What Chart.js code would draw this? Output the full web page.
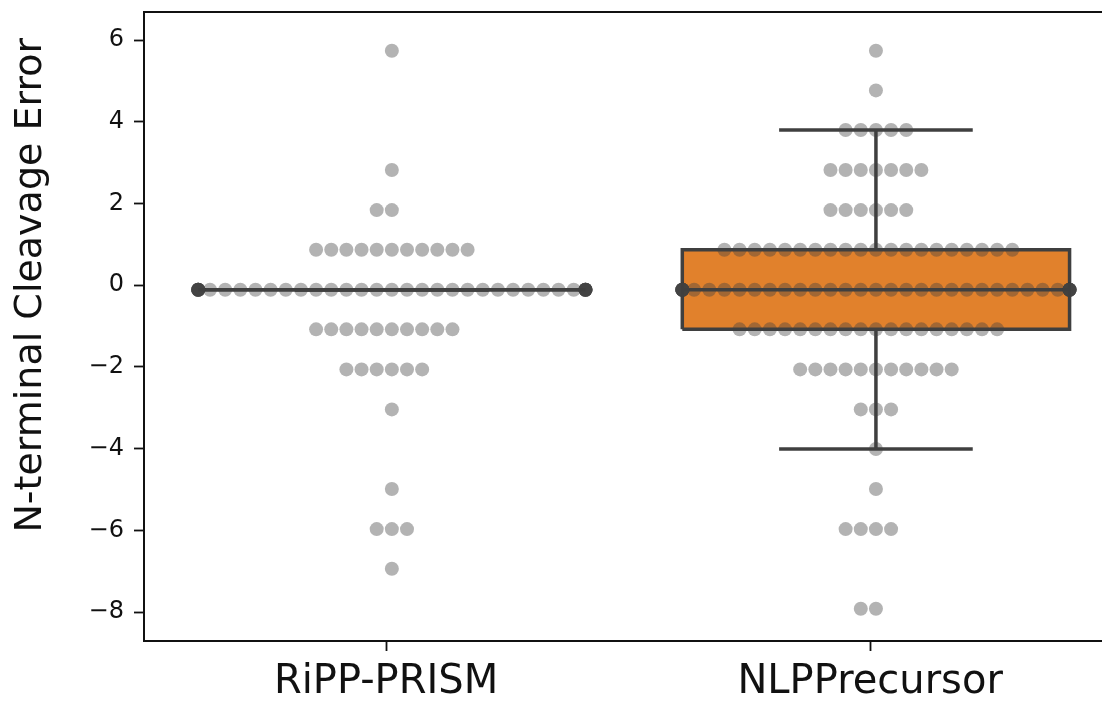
<!DOCTYPE html>
<html>
<head>
<meta charset="utf-8">
<script src="https://cdn.jsdelivr.net/npm/chart.js@4.4.1/dist/chart.umd.min.js"></script>
<style>
  html, body { margin: 0; padding: 0; background: #fff; }
</style>
</head>
<body>
<canvas id="chart" width="1102" height="704"></canvas>
<script>
const categories = ['RiPP-PRISM', 'NLPPrecursor'];
const yLabel = 'N-terminal Cleavage Error';
const yTicks = [-8, -6, -4, -2, 0, 2, 4, 6];

// swarm rows: error level and how many dots sit on it
const rippLevels = [5.74, 2.82, 1.84, 0.87, -0.11, -1.08, -2.06, -3.04, -4.99, -5.97, -6.94];
const rippCounts = [1, 1, 2, 11, 41, 10, 6, 1, 1, 3, 1];
const nlpLevels = [5.74, 4.77, 3.80, 2.82, 1.84, 0.87, -0.11, -1.08, -2.06, -3.04, -4.01, -4.99, -5.97, -7.92];
const nlpCounts = [1, 1, 5, 7, 6, 20, 41, 18, 11, 3, 1, 1, 4, 2];

// box stats per category
const boxQ1 = [-0.11, -1.08];
const boxMedian = [-0.11, -0.11];
const boxQ3 = [-0.11, 0.87];
const whiskerLow = [-0.11, -4.01];
const whiskerHigh = [-0.11, 3.80];

const centerShift = 0.012;
const boxWidth = 0.8;
const capWidth = 0.4;
const dotStep = 0.0313;
const ink = '#3f3f3f';
const boxFill = '#e1812c';
const dotColor = 'rgba(64,64,64,0.4)';
const textColor = '#111';

// spread each row sideways: centre, left, right, left, right...; overflow piles at the edge
function swarm(ci, levels, counts) {
    const c = ci + centerShift;
    const pts = [];
    levels.forEach((v, i) => {
        for (let k = 0; k < counts[i]; k++) {
            const slot = k === 0 ? 0 : (k % 2 ? -(k + 1) / 2 : k / 2);
            const dx = Math.max(-boxWidth / 2, Math.min(boxWidth / 2, slot * dotStep));
            pts.push({ x: c + dx, y: v });
        }
    });
    return pts;
}

function seg(points) {
    return { data: points, borderColor: ink, borderWidth: 3.5, pointRadius: 0, fill: false, order: 1 };
}

const datasets = [];
[[rippLevels, rippCounts], [nlpLevels, nlpCounts]].forEach(([levels, counts], i) => {
    const c = i + centerShift;
    const x0 = c - boxWidth / 2, x1 = c + boxWidth / 2;
    const cx0 = c - capWidth / 2, cx1 = c + capWidth / 2;

    datasets.push({ data: swarm(i, levels, counts), showLine: false, pointRadius: 7, pointHoverRadius: 7,
        pointBackgroundColor: dotColor, pointBorderWidth: 0, order: 0 });

    // box fill between q3 and q1
    datasets.push({ data: [{ x: x0, y: boxQ3[i] }, { x: x1, y: boxQ3[i] }], borderWidth: 0, pointRadius: 0,
        backgroundColor: boxFill, fill: '+1', order: 2 });
    datasets.push({ data: [{ x: x0, y: boxQ1[i] }, { x: x1, y: boxQ1[i] }], borderWidth: 0, pointRadius: 0,
        fill: false, order: 2 });

    datasets.push(seg([{ x: x0, y: boxQ1[i] }, { x: x0, y: boxQ3[i] }, { x: x1, y: boxQ3[i] },
        { x: x1, y: boxQ1[i] }, { x: x0, y: boxQ1[i] }]));
    datasets.push(seg([{ x: x0, y: boxMedian[i] }, { x: x1, y: boxMedian[i] }]));
    datasets.push(seg([{ x: c, y: boxQ3[i] }, { x: c, y: whiskerHigh[i] }]));
    datasets.push(seg([{ x: c, y: boxQ1[i] }, { x: c, y: whiskerLow[i] }]));
    datasets.push(seg([{ x: cx0, y: whiskerHigh[i] }, { x: cx1, y: whiskerHigh[i] }]));
    datasets.push(seg([{ x: cx0, y: whiskerLow[i] }, { x: cx1, y: whiskerLow[i] }]));
});

const yTitlePlugin = {
    id: 'yTitle',
    afterDraw(chart) {
        const ctx = chart.ctx;
        const y = chart.scales.y.getPixelForValue(0);
        ctx.save();
        ctx.translate(41, y);
        ctx.rotate(-Math.PI / 2);
        ctx.font = '38px "DejaVu Sans"';
        ctx.fillStyle = textColor;
        ctx.textAlign = 'center';
        ctx.textBaseline = 'alphabetic';
        ctx.fillText(yLabel, 0, 0);
        ctx.restore();
    }
};

new Chart(document.getElementById('chart'), {
    type: 'line',
    data: { datasets },
    plugins: [yTitlePlugin],
    options: {
        responsive: false,
        animation: false,
        devicePixelRatio: 1,
        layout: { autoPadding: false, padding: { top: 12, right: 0, bottom: 0, left: 0 } },
        plugins: { legend: { display: false }, tooltip: { enabled: false } },
        scales: {
            x: {
                type: 'linear', position: 'bottom', min: -0.5, max: 1.479, offset: false,
                afterBuildTicks: s => { s.ticks = categories.map((c, i) => ({ value: i })); },
                afterFit: s => { s.height = 63; s.paddingLeft = 0; s.paddingRight = 0; },
                ticks: {
                    callback: v => categories[v] ?? '',
                    font: { family: 'DejaVu Sans', size: 40 }, color: textColor,
                    padding: 8, maxRotation: 0, autoSkip: false
                },
                grid: { drawOnChartArea: false, tickLength: 10, tickWidth: 1.8, color: textColor },
                border: { display: true, color: textColor, width: 2 }
            },
            xTop: {
                type: 'linear', position: 'top', min: -0.5, max: 1.479,
                afterFit: s => { s.height = 0; s.paddingLeft = 0; s.paddingRight = 0; },
                ticks: { display: false },
                grid: { display: false, drawTicks: false },
                border: { display: true, color: textColor, width: 2 }
            },
            y: {
                min: -8.71, max: 6.69,
                afterBuildTicks: s => { s.ticks = yTicks.map(v => ({ value: v })); },
                afterFit: s => { s.width = 144; s.paddingTop = 0; s.paddingBottom = 0; },
                ticks: {
                    callback: v => (v < 0 ? '\u2212' + Math.abs(v) : String(v)),
                    font: { family: 'DejaVu Sans', size: 24 }, color: textColor, padding: 10
                },
                grid: { drawOnChartArea: false, tickLength: 10, tickWidth: 1.8, color: textColor },
                border: { display: true, color: textColor, width: 2 }
            }
        }
    }
});
</script>
</body>
</html>
